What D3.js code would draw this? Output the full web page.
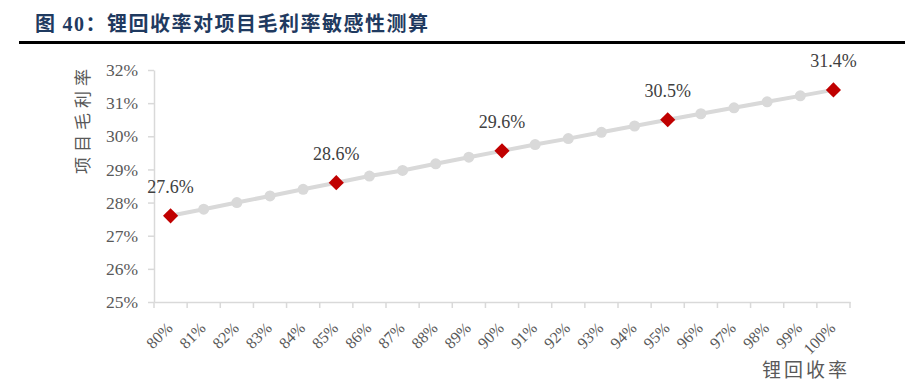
<!DOCTYPE html>
<html><head><meta charset="utf-8">
<script src="https://cdn.jsdelivr.net/npm/d3@7"></script>
<style>body{margin:0;background:#fff}svg{display:block}
.serif{font-family:"Liberation Serif","DejaVu Serif",serif}
</style>
</head><body>
<script>
const categories = ["80%","81%","82%","83%","84%","85%","86%","87%","88%","89%","90%","91%","92%","93%","94%","95%","96%","97%","98%","99%","100%"];
const margins = [27.6,27.8,28.0,28.2,28.4,28.6,28.8,28.97,29.17,29.37,29.56,29.75,29.93,30.12,30.31,30.5,30.68,30.86,31.04,31.22,31.4];
const highlighted = ["80%","85%","90%","95%","100%"];
const highlightLabels = ["27.6%","28.6%","29.6%","30.5%","31.4%"];
const yTicks = [25,26,27,28,29,30,31,32];
const titlePrefix = "图 ";
const titleNum = "40";
const titleRest = "：锂回收率对项目毛利率敏感性测算";
const yTitle = "项目毛利率";
const xTitle = "锂回收率";

const W = 905, H = 382;
const svg = d3.select("body").append("svg").attr("width", W).attr("height", H);
const cjk = "'Noto Sans CJK SC',sans-serif";

// title
const t = svg.append("text").attr("x", 35).attr("y", 31)
  .style("font-family", cjk).attr("font-weight", "bold").attr("font-size", 20)
  .attr("letter-spacing", 1.5).attr("fill", "#1f3a60");
t.append("tspan").text(titlePrefix);
t.append("tspan").attr("class", "serif").text(titleNum);
t.append("tspan").text(titleRest);
svg.append("rect").attr("x", 19).attr("y", 41).attr("width", W - 19).attr("height", 3).attr("fill", "#000");

const x = d3.scaleBand().domain(categories).range([154, 850]);
const y = d3.scaleLinear().domain([25, 32]).range([302, 70]);

// y axis
const yAxis = svg.append("g").attr("transform", "translate(154,0)")
  .call(d3.axisLeft(y).tickValues(yTicks).tickSize(6).tickSizeOuter(0).tickFormat(d => d + "%"));
yAxis.attr("font-family", null);
yAxis.select(".domain").attr("stroke", "#d9d9d9").attr("stroke-width", 1.5);
yAxis.selectAll(".tick line").attr("stroke", "#d9d9d9").attr("stroke-width", 1.5);
yAxis.selectAll(".tick text").attr("class", "serif").attr("font-size", 17.5).attr("fill", "#595959").attr("x", -16);

// x axis
const xAxis = svg.append("g").attr("transform", "translate(0,302)")
  .call(d3.axisBottom(x).tickSize(6).tickSizeOuter(0));
xAxis.attr("font-family", null);
xAxis.select(".domain").attr("stroke", "#d9d9d9").attr("stroke-width", 1.5);
xAxis.selectAll(".tick line").attr("stroke", "#d9d9d9").attr("stroke-width", 1.5)
  .attr("transform", `translate(${-x.bandwidth()/2},0)`);
svg.append("line").attr("x1", 850).attr("x2", 850).attr("y1", 302).attr("y2", 308)
  .attr("stroke", "#d9d9d9").attr("stroke-width", 1.5);
xAxis.selectAll(".tick text")
  .attr("class", "serif").attr("font-size", 16).attr("fill", "#595959")
  .attr("text-anchor", "end").attr("dy", null).attr("y", 0)
  .attr("transform", "translate(3,27) rotate(-45)");

// axis titles
svg.append("text").attr("transform", "translate(89,119) rotate(-90)")
  .attr("text-anchor", "middle").style("font-family", cjk).attr("font-size", 17)
  .attr("letter-spacing", 5).attr("fill", "#595959").text(yTitle);
svg.append("text").attr("x", 850).attr("y", 377).attr("text-anchor", "end")
  .style("font-family", cjk).attr("font-size", 19).attr("letter-spacing", 3)
  .attr("fill", "#595959").text(xTitle);

const data = categories.map((c, i) => ({c, v: margins[i]}));
const cx = d => x(d.c) + x.bandwidth() / 2;

svg.append("path").datum(data)
  .attr("d", d3.line().x(cx).y(d => y(d.v)))
  .attr("fill", "none").attr("stroke", "#d9d9d9").attr("stroke-width", 4);

svg.selectAll("circle.pt").data(data.filter(d => !highlighted.includes(d.c))).enter()
  .append("circle").attr("cx", cx).attr("cy", d => y(d.v)).attr("r", 5.5).attr("fill", "#d9d9d9");

const hi = data.filter(d => highlighted.includes(d.c));
svg.selectAll("path.dia").data(hi).enter().append("path")
  .attr("d", d3.symbol().type(d3.symbolSquare).size(115))
  .attr("transform", d => `translate(${cx(d)},${y(d.v)}) rotate(45)`)
  .attr("fill", "#c00000");

svg.selectAll("text.lbl").data(hi).enter().append("text")
  .attr("class", "serif")
  .attr("x", cx).attr("y", d => y(d.v) - 23)
  .attr("text-anchor", "middle").attr("font-size", 18)
  .attr("fill", "#404040").text((d, i) => highlightLabels[i]);
</script>
</body></html>
